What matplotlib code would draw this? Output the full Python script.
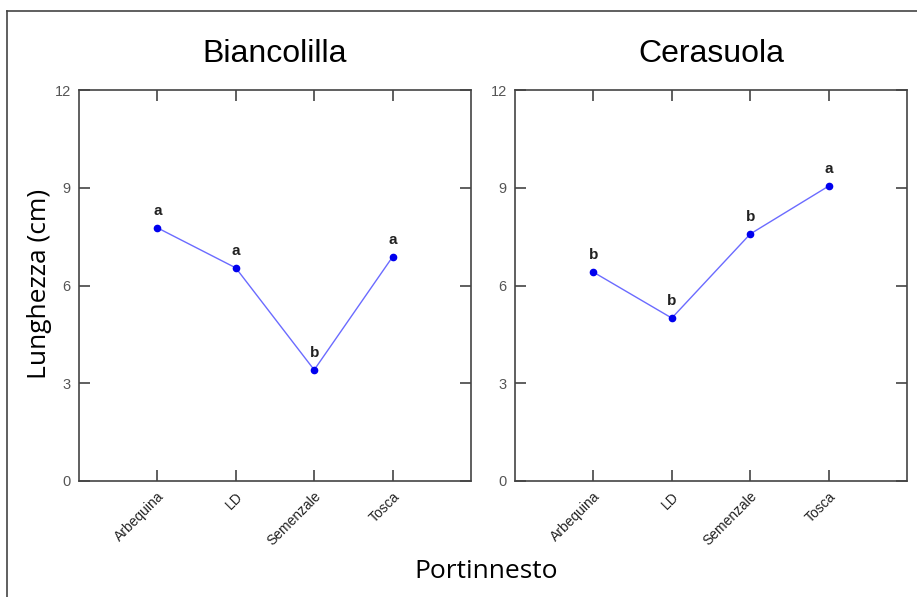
import matplotlib.pyplot as plt
from matplotlib.lines import Line2D

# portinnesti e lunghezze medie (cm) per cultivar
portinnesti = ["Arbequina", "LD", "Semenzale", "Tosca"]
biancolilla = [7.77, 6.54, 3.41, 6.88]
cerasuola = [6.41, 5.00, 7.58, 9.05]
lettere_biancolilla = ["a", "a", "b", "a"]
lettere_cerasuola = ["b", "b", "b", "a"]

fig = plt.figure(figsize=(9.17, 5.97), dpi=100)

# cornice esterna (solo lato superiore e sinistro)
fig.add_artist(Line2D([7 / 917, 1.0], [1 - 11 / 597, 1 - 11 / 597], color="#444444", lw=1.2))
fig.add_artist(Line2D([7 / 917, 7 / 917], [0.0, 1 - 11 / 597], color="#444444", lw=1.2))

def pannello(ax, valori, lettere, titolo):
    x = range(1, len(portinnesti) + 1)
    ax.plot(x, valori, color="#6b6bff", lw=1.0, marker="o", ms=4.5,
            mfc="#0000ee", mec="#0000ee", zorder=3)
    for xi, v, l in zip(x, valori, lettere):
        ax.annotate(l, (xi, v), xytext=(0, 7), textcoords="offset points",
                    ha="center", va="bottom", fontsize=11, fontweight="bold",
                    color="#222222", family="Liberation Sans")
    ax.set_xlim(0, 5)
    ax.set_ylim(0, 12)
    ax.set_yticks([0, 3, 6, 9, 12])
    ax.set_xticks(list(x))
    ax.set_xticklabels(portinnesti, rotation=45, ha="right", rotation_mode="anchor",
                       fontsize=10, family="Liberation Sans", color="#222222")
    for lab in ax.get_yticklabels():
        lab.set_fontsize(10.5)
        lab.set_family("Liberation Sans")
        lab.set_color("#555555")
    ax.tick_params(direction="in", length=8, width=1.2, color="#444444",
                   top=True, right=True, pad=6)
    for s in ax.spines.values():
        s.set_color("#444444")
        s.set_linewidth(1.2)
    ax.set_title(titolo, fontsize=23, family="Liberation Sans", pad=20)

ax1 = fig.add_axes([79 / 917, 116 / 597, 392 / 917, 391 / 597])
ax2 = fig.add_axes([515 / 917, 116 / 597, 392 / 917, 391 / 597])
pannello(ax1, biancolilla, lettere_biancolilla, "Biancolilla")
pannello(ax2, cerasuola, lettere_cerasuola, "Cerasuola")

fig.text(40 / 917, 1 - 284 / 597, "Lunghezza (cm)", fontsize=19, family="Open Sans",
         rotation=90, ha="center", va="center")
fig.text(486 / 917, 1 - 572 / 597, "Portinnesto", fontsize=19, family="Open Sans",
         ha="center", va="center")

fig.savefig("out.png", dpi=100)
